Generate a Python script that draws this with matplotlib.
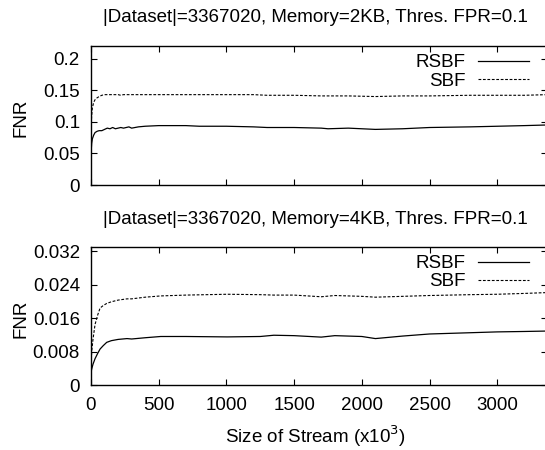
import matplotlib
matplotlib.use("Agg")
import matplotlib.pyplot as plt
import numpy as np

plt.rcParams['font.family'] = ['Liberation Sans', 'DejaVu Sans']

# Data (stream size in thousands)
x_top = [0, 5, 10, 20, 30, 45, 60, 80, 100, 120, 140, 160, 180, 200, 220, 240, 260, 280, 300,
         350, 400, 500, 600, 700, 800, 1000, 1200, 1300, 1500, 1700, 1750, 1900, 2100, 2300,
         2500, 2800, 3000, 3200, 3367]
rsbf_top = [0.050, 0.066, 0.073, 0.079, 0.083, 0.085, 0.086, 0.086, 0.088, 0.090, 0.089, 0.091,
            0.089, 0.090, 0.091, 0.090, 0.091, 0.092, 0.090, 0.092, 0.093, 0.094, 0.094, 0.094,
            0.093, 0.093, 0.092, 0.091, 0.091, 0.090, 0.089, 0.090, 0.088, 0.089, 0.091, 0.092,
            0.093, 0.094, 0.095]
sbf_top = [0.090, 0.110, 0.122, 0.131, 0.135, 0.138, 0.140, 0.142, 0.143, 0.143, 0.143, 0.143,
           0.143, 0.143, 0.142, 0.143, 0.143, 0.143, 0.143, 0.143, 0.143, 0.143, 0.143, 0.143,
           0.143, 0.143, 0.143, 0.142, 0.142, 0.141, 0.141, 0.141, 0.140, 0.141, 0.141, 0.142,
           0.142, 0.142, 0.143]

x_bot = [0, 5, 15, 30, 50, 67, 90, 116, 150, 200, 266, 300, 400, 515, 700, 1007, 1250, 1350,
         1500, 1700, 1800, 2000, 2100, 2300, 2500, 2800, 3000, 3200, 3367]
rsbf_bot = [0.0030, 0.0038, 0.0050, 0.0063, 0.0076, 0.0086, 0.0094, 0.0102, 0.0106, 0.0109,
            0.0111, 0.0110, 0.0113, 0.0116, 0.0116, 0.0115, 0.0116, 0.0119, 0.0118, 0.01145,
            0.0118, 0.0116, 0.0111, 0.0117, 0.0122, 0.0125, 0.0127, 0.0128, 0.0129]
sbf_bot = [0.0040, 0.0080, 0.0110, 0.0145, 0.0168, 0.0184, 0.0190, 0.0195, 0.0199, 0.0203,
           0.0206, 0.0206, 0.0210, 0.0213, 0.0215, 0.0217, 0.0216, 0.0215, 0.0215, 0.0211,
           0.0214, 0.0212, 0.0210, 0.0212, 0.0214, 0.0216, 0.0217, 0.0219, 0.0221]

titles = ["|Dataset|=3367020, Memory=2KB, Thres. FPR=0.1",
          "|Dataset|=3367020, Memory=4KB, Thres. FPR=0.1"]
yticks_top = [0, 0.05, 0.1, 0.15, 0.2]
ytick_labels_top = ["0", "0.05", "0.1", "0.15", "0.2"]
yticks_bot = [0, 0.008, 0.016, 0.024, 0.032]
ytick_labels_bot = ["0", "0.008", "0.016", "0.024", "0.032"]
xticks = [0, 500, 1000, 1500, 2000, 2500, 3000]

W, H = 545, 450
fig = plt.figure(figsize=(W / 100, H / 100), dpi=100)

def px_axes(left, top, right, bottom):
    return fig.add_axes([left / W, 1 - bottom / H, (right - left) / W, (bottom - top) / H])

ax1 = px_axes(91, 46, 547, 185)
ax2 = px_axes(91, 247, 547, 385)

fs = 13.5
for ax, x, r, s, yl, yt, ytl, ymid in [
    (ax1, x_top, rsbf_top, sbf_top, 0.22, yticks_top, ytick_labels_top, 118),
    (ax2, x_bot, rsbf_bot, sbf_bot, 0.033, yticks_bot, ytick_labels_bot, 319),
]:
    ax.plot(x, r, color='black', lw=0.9, label='RSBF')
    ax.plot(x, s, color='black', lw=0.8, ls=(0, (2.5, 1.5)), label='SBF')
    ax.set_xlim(0, 3367)
    ax.set_ylim(0, yl)
    ax.set_yticks(yt)
    ax.set_yticklabels(ytl, fontsize=fs)
    ax.set_xticks(xticks)
    ax.tick_params(direction='in', top=True, right=True, length=4, width=0.8,
                   labelsize=fs)
    ax.tick_params(axis='y', pad=8)
    ax.tick_params(axis='x', pad=9)
    for sp in ax.spines.values():
        sp.set_linewidth(1.0)
    fig.text(21 / W, 1 - ymid / H, "FNR", rotation=90, ha='center', va='center', fontsize=fs)
    ax.legend(loc='upper right', frameon=False, markerfirst=False, fontsize=fs,
              handlelength=2.7, handletextpad=0.7, labelspacing=0.05,
              borderaxespad=0.0, borderpad=0.0, bbox_to_anchor=(0.9605, 0.94))

ax1.tick_params(labelbottom=False)
ax2.set_xticklabels([str(t) for t in xticks])

fig.text(315.5 / W, 1 - 443 / H, r"Size of Stream (x10$^3$)", ha='center', va='baseline', fontsize=fs)
fig.text(315.5 / W, 1 - 22.5 / H, titles[0], ha='center', va='baseline', fontsize=fs)
fig.text(315.5 / W, 1 - 224 / H, titles[1], ha='center', va='baseline', fontsize=fs)

fig.savefig("out.png", dpi=100)
